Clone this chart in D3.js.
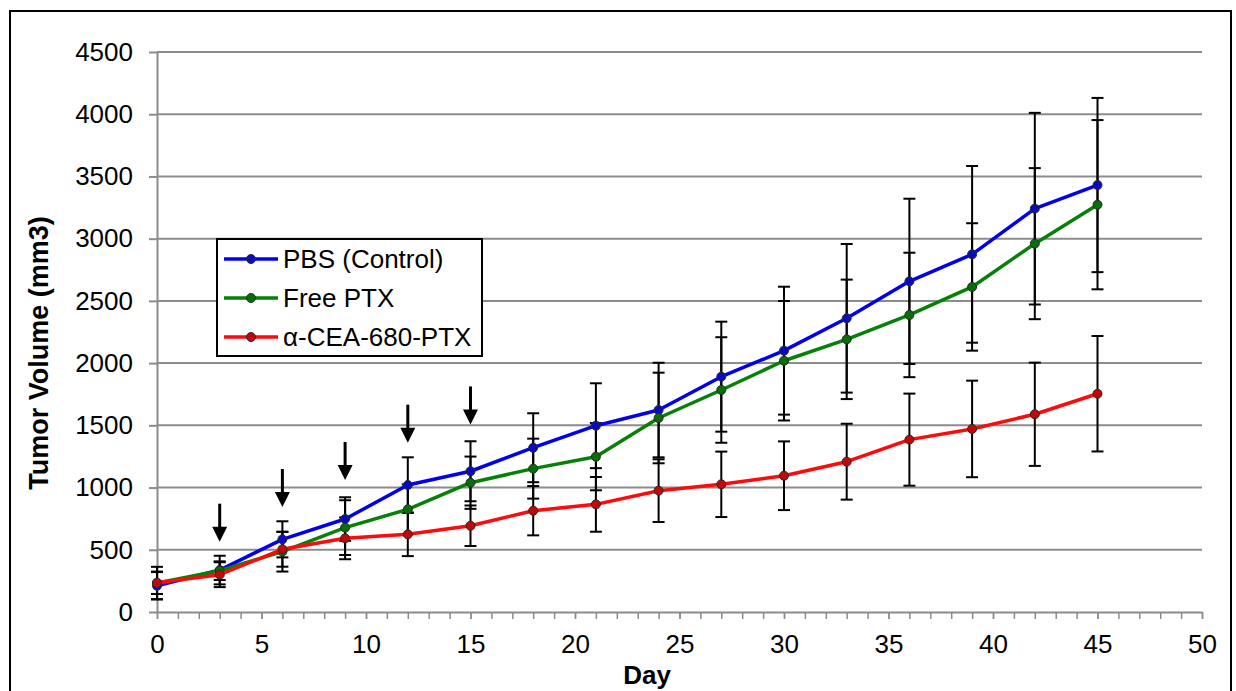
<!DOCTYPE html>
<html>
<head>
<meta charset="utf-8">
<script src="https://cdn.jsdelivr.net/npm/d3@7"></script>
<style>
  body { margin: 0; background: #fff; }
  svg { display: block; font-family: Arial, "Liberation Sans", sans-serif; }
</style>
</head>
<body>
<svg id="chart" width="1236" height="691"></svg>
<script>
// tumour volume by day, three treatment groups
const days = [0, 3, 6, 9, 12, 15, 18, 21, 24, 27, 30, 33, 36, 39, 42, 45];
const pbs = [211, 337, 584, 747, 1020, 1131, 1320, 1497, 1623, 1891, 2100, 2360, 2657, 2874, 3241, 3431];
const pbsErr = [110, 115, 145, 175, 223, 241, 277, 341, 380, 442, 514, 597, 664, 710, 770, 700];
const freePtx = [233, 332, 485, 678, 825, 1039, 1152, 1248, 1559, 1784, 2019, 2191, 2387, 2612, 2960, 3273];
const freePtxErr = [130, 75, 160, 220, 200, 210, 241, 270, 364, 424, 480, 480, 500, 512, 607, 680];
const cea = [235, 300, 504, 592, 624, 693, 814, 865, 975, 1026, 1095, 1208, 1385, 1471, 1589, 1754];
const ceaErr = [90, 100, 140, 168, 175, 163, 198, 220, 252, 263, 276, 305, 370, 388, 415, 464];
const seriesNames = ['PBS (Control)', 'Free PTX', 'α-CEA-680-PTX'];
const yTicks = [0, 500, 1000, 1500, 2000, 2500, 3000, 3500, 4000, 4500];
const xTicks = [0, 5, 10, 15, 20, 25, 30, 35, 40, 45, 50];
// dosing arrows: day and the value the arrow head points at
const arrowDays = [3, 6, 9, 12, 15];
const arrowTips = [565, 844, 1061, 1361, 1507];

const series = [
  { name: seriesNames[0], vals: pbs, err: pbsErr, line: '#0000ee', dot: '#0a0ac0' },
  { name: seriesNames[1], vals: freePtx, err: freePtxErr, line: '#078007', dot: '#066e06' },
  { name: seriesNames[2], vals: cea, err: ceaErr, line: '#ff0a0a', dot: '#c00808' }
];

const svg = d3.select('#chart');
const x = d3.scaleLinear().domain([0, 50]).range([157, 1202]);
const y = d3.scaleLinear().domain([0, 4500]).range([612, 52]);
const grey = '#8c8c8c';

// outer frame
svg.append('rect').attr('x', 10).attr('y', 11).attr('width', 1221).attr('height', 700)
  .attr('fill', 'none').attr('stroke', '#000').attr('stroke-width', 2);

// horizontal grid
svg.append('g').selectAll('line').data(yTicks.filter(d => d > 0)).enter().append('line')
  .attr('x1', x(0)).attr('x2', x(50)).attr('y1', d => y(d)).attr('y2', d => y(d))
  .attr('stroke', grey).attr('stroke-width', 2);

// y axis
const yAxis = svg.append('g').attr('transform', `translate(${x(0)},0)`)
  .call(d3.axisLeft(y).tickValues(yTicks).tickFormat(d3.format('d')).tickSize(8).tickPadding(16).tickSizeOuter(0));
yAxis.select('.domain').attr('stroke', grey).attr('stroke-width', 2);
yAxis.selectAll('line').attr('stroke', grey).attr('stroke-width', 2);
yAxis.selectAll('text').attr('font-size', '26px').attr('fill', '#000')
  .attr('font-family', 'Arial, "Liberation Sans", sans-serif');

// x axis: minor ticks each day, labels every 5
const xMinor = svg.append('g').attr('transform', `translate(0,${y(0)})`)
  .call(d3.axisBottom(x).tickValues(d3.range(0, 51)).tickSize(7).tickFormat('').tickSizeOuter(0));
xMinor.select('.domain').attr('stroke', grey).attr('stroke-width', 2);
xMinor.selectAll('line').attr('stroke', grey).attr('stroke-width', 1.5);
const xAxis = svg.append('g').attr('transform', `translate(0,${y(0)})`)
  .call(d3.axisBottom(x).tickValues(xTicks).tickFormat(d3.format('d')).tickSize(7).tickPadding(16).tickSizeOuter(0));
xAxis.select('.domain').remove();
xAxis.selectAll('line').attr('stroke', grey).attr('stroke-width', 1.5);
xAxis.selectAll('text').attr('font-size', '26px').attr('fill', '#000')
  .attr('font-family', 'Arial, "Liberation Sans", sans-serif');

// axis titles
svg.append('text').attr('x', 647).attr('y', 684).attr('text-anchor', 'middle')
  .attr('font-size', '26px').attr('font-weight', 'bold').text('Day');
svg.append('text').attr('transform', 'translate(48,353) rotate(-90)').attr('text-anchor', 'middle')
  .attr('font-size', '27px').attr('font-weight', 'bold').text('Tumor Volume (mm3)');

// error bars
series.forEach(s => {
  const g = svg.append('g').attr('stroke', '#000').attr('stroke-width', 2);
  days.forEach((d, i) => {
    const lo = s.vals[i] - s.err[i], hi = s.vals[i] + s.err[i];
    g.append('line').attr('x1', x(d)).attr('x2', x(d)).attr('y1', y(lo)).attr('y2', y(hi));
    g.append('line').attr('x1', x(d) - 6).attr('x2', x(d) + 6).attr('y1', y(lo)).attr('y2', y(lo));
    g.append('line').attr('x1', x(d) - 6).attr('x2', x(d) + 6).attr('y1', y(hi)).attr('y2', y(hi));
  });
});

// lines and markers
const line = d3.line().x((d, i) => x(days[i])).y(d => y(d));
series.forEach(s => {
  svg.append('path').datum(s.vals).attr('d', line).attr('fill', 'none')
    .attr('stroke', s.line).attr('stroke-width', 3.5).attr('stroke-linejoin', 'round');
  svg.append('g').selectAll('circle').data(s.vals).enter().append('circle')
    .attr('cx', (d, i) => x(days[i])).attr('cy', d => y(d)).attr('r', 4.5)
    .attr('fill', s.dot).attr('stroke', '#2a2a2a').attr('stroke-width', 1);
});

// dosing arrows
arrowDays.forEach((d, i) => {
  const tx = x(d), ty = y(arrowTips[i]);
  svg.append('line').attr('x1', tx).attr('x2', tx).attr('y1', ty - 38).attr('y2', ty - 12)
    .attr('stroke', '#000').attr('stroke-width', 3);
  svg.append('path').attr('d', `M${tx - 7.5},${ty - 15} L${tx + 7.5},${ty - 15} L${tx},${ty} Z`).attr('fill', '#000');
});

// legend
const lg = svg.append('g');
lg.append('rect').attr('x', 217).attr('y', 239).attr('width', 265).attr('height', 117)
  .attr('fill', '#fff').attr('stroke', '#000').attr('stroke-width', 2);
series.forEach((s, i) => {
  const ly = 259 + i * 39;
  lg.append('line').attr('x1', 224).attr('x2', 278).attr('y1', ly).attr('y2', ly)
    .attr('stroke', s.line).attr('stroke-width', 3.5);
  lg.append('circle').attr('cx', 251).attr('cy', ly).attr('r', 4.5)
    .attr('fill', s.dot).attr('stroke', '#2a2a2a').attr('stroke-width', 1);
  lg.append('text').attr('x', 283).attr('y', ly).attr('dy', '0.35em')
    .attr('font-size', '26px').text(s.name);
});
</script>
</body>
</html>
